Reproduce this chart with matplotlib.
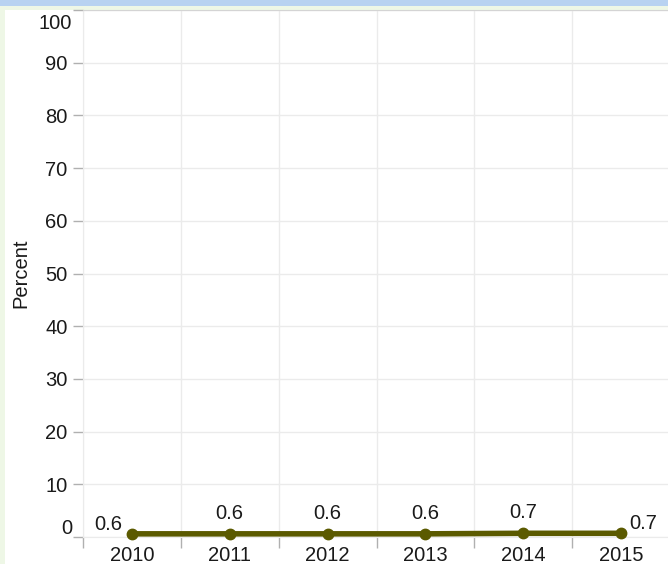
import matplotlib.pyplot as plt
import matplotlib.patches as mpatches
from matplotlib.ticker import FixedLocator, NullFormatter

plt.rcParams['font.family'] = ['Liberation Sans', 'DejaVu Sans']

years = ['2010', '2011', '2012', '2013', '2014', '2015']
percent = [0.6, 0.6, 0.6, 0.6, 0.7, 0.7]
value_labels = ['0.6', '0.6', '0.6', '0.6', '0.7', '0.7']
y_ticks = [0, 10, 20, 30, 40, 50, 60, 70, 80, 90, 100]

line_color = '#5b5a00'
text_color = '#1a1a1a'
axis_color = '#b0b0b0'
grid_color = '#ebebeb'
fs = 14.5

fig = plt.figure(figsize=(6.68, 5.64), dpi=100, facecolor='#eef7e6')

# white panel and blue strip at the top
fig.patches.append(mpatches.Rectangle((5 / 668, 0), 1, 554 / 564, transform=fig.transFigure,
                                      facecolor='white', edgecolor='none', zorder=-2))
fig.patches.append(mpatches.Rectangle((0, 558 / 564), 1, 6 / 564, transform=fig.transFigure,
                                      facecolor='#b8d2f1', edgecolor='none', zorder=-2))

ax = fig.add_axes([83 / 668, 27 / 564, 587 / 668, 527 / 564])
ax.set_zorder(1)
ax.set_facecolor('none')

x = list(range(len(years)))
ax.plot(x, percent, color=line_color, linewidth=4, marker='o', markersize=7.5,
        solid_capstyle='round', zorder=5, clip_on=False)

# value labels
for i, (xi, v, lab) in enumerate(zip(x, percent, value_labels)):
    if i == 0:
        off, ha = (-7, 7), 'right'
    elif i == len(x) - 1:
        off, ha = (6, 7), 'left'
    else:
        off, ha = (0, 15), 'center'
    ax.annotate(lab, (xi, v), xytext=off, textcoords='offset points', ha=ha, va='center',
                fontsize=fs, color=text_color, zorder=6)

ax.set_xlim(-0.5, len(years) - 0.5)
ax.set_ylim(0, 100)

# y axis; end labels pulled inside the plot like the original
ax.set_yticks(y_ticks)
ax.set_yticklabels([''] + [str(t) for t in y_ticks[1:-1]] + [''])
ax.tick_params(axis='y', length=7, width=1, color=axis_color, labelsize=fs,
               labelcolor=text_color, pad=4)
ax.annotate(str(y_ticks[0]), (0, y_ticks[0]), xycoords=('axes fraction', 'data'),
            xytext=(-8, 6), textcoords='offset points', ha='right', va='center',
            fontsize=fs, color=text_color)
ax.annotate(str(y_ticks[-1]), (0, y_ticks[-1]), xycoords=('axes fraction', 'data'),
            xytext=(-8, -9.5), textcoords='offset points', ha='right', va='center',
            fontsize=fs, color=text_color)
ax.set_ylabel('Percent', fontsize=fs, color=text_color, labelpad=11)

# x axis: labels at centres, ticks at band edges
ax.set_xticks(x)
ax.set_xticklabels(years)
ax.tick_params(axis='x', which='major', length=0, labelsize=fs, labelcolor=text_color, pad=6.5)
ax.xaxis.set_minor_locator(FixedLocator([i - 0.5 for i in range(len(years) + 1)]))
ax.xaxis.set_minor_formatter(NullFormatter())
ax.tick_params(axis='x', which='minor', length=8, width=1, color=axis_color)

ax.grid(True, axis='y', which='major', color=grid_color, linewidth=1)
ax.grid(True, axis='x', which='minor', color=grid_color, linewidth=1)
ax.set_axisbelow(True)

ax.spines['right'].set_visible(False)
ax.spines['top'].set_color('#d4d4d4')
ax.spines['left'].set_color(grid_color)
ax.spines['bottom'].set_color(grid_color)

plt.savefig('out.png', dpi=100, facecolor=fig.get_facecolor())
